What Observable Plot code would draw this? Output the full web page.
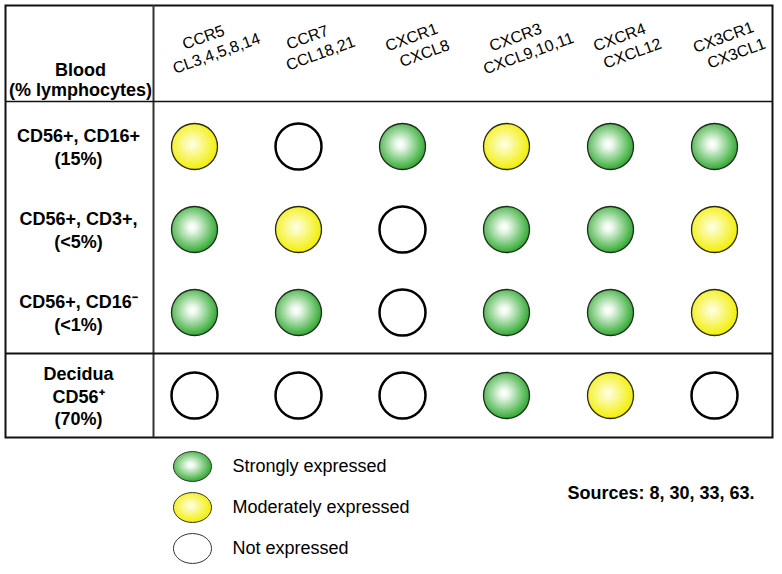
<!DOCTYPE html>
<html><head><meta charset="utf-8">
<script src="https://cdn.jsdelivr.net/npm/d3@7"></script>
<script src="https://cdn.jsdelivr.net/npm/@observablehq/plot@0.6"></script>
<style>body{margin:0;background:#fff} #chart svg{display:block}</style>
</head><body><div id="chart"></div>
<script>
// ---- data ----
const receptors = ["CCR5", "CCR7", "CXCR1", "CXCR3", "CXCR4", "CX3CR1"];
const ligands = ["CL3,4,5,8,14", "CCL18,21", "CXCL8", "CXCL9,10,11", "CXCL12", "CX3CL1"];
const cellTypes = ["CD56+, CD16+\n(15%)", "CD56+, CD3+,\n(<5%)", "CD56+, CD16\u207B\n(<1%)", "Decidua\nCD56\u207A\n(70%)"];
const exprCD16pos = ["moderate", "none", "strong", "moderate", "strong", "strong"];
const exprCD3pos = ["strong", "moderate", "none", "strong", "strong", "moderate"];
const exprCD16neg = ["strong", "strong", "none", "strong", "strong", "moderate"];
const exprDecidua = ["none", "none", "none", "strong", "moderate", "none"];
const headerLabel = "Blood\n(% lymphocytes)";
const legendLabels = ["Strongly expressed", "Moderately expressed", "Not expressed"];
const legendLevels = ["strong", "moderate", "none"];
const sourcesNote = "Sources: 8, 30, 33, 63.";

// ---- build table ----
const exprRows = [exprCD16pos, exprCD3pos, exprCD16neg, exprDecidua];
const cells = cellTypes.flatMap((cell, i) => receptors.map((receptor, j) => ({cell, receptor, level: exprRows[i][j]})));
const headerRow = "header";
const headers = receptors.map((receptor, i) => ({receptor, ligand: ligands[i], row: headerRow}));

const font = "Liberation Sans";
const styleFor = {
  strong: {fill: "url(#gradStrong)", stroke: "#1e2e1e", strokeWidth: 1.3},
  moderate: {fill: "url(#gradModerate)", stroke: "#2a2a10", strokeWidth: 1.3},
  none: {fill: "#ffffff", stroke: "#000000", strokeWidth: 2.5}
};

const main = Plot.plot({
  width: 782, height: 440,
  marginTop: 5, marginLeft: 5, marginRight: 10, marginBottom: 3,
  x: {type: "point", domain: receptors, range: [192, 716], padding: 0, axis: null},
  y: {type: "point", domain: [headerRow, ...cellTypes], range: [62.7, 396], padding: 0, axis: null},
  marks: [
    Plot.frame({stroke: "#111", strokeWidth: 2}),
    Plot.text(headers, {x: "receptor", y: "row", text: "receptor", dy: -26, dx: 9, rotate: -20, fontSize: 16, fontFamily: font}),
    Plot.text(headers, {x: "receptor", y: "row", text: "ligand", dy: -10, dx: 22, rotate: -20, fontSize: 16, fontFamily: font}),
    Plot.ruleX([receptors[0]], {dx: -41, stroke: "#333", strokeWidth: 2}),
    Plot.ruleY([cellTypes[0]], {dy: -45, stroke: "#111", strokeWidth: 1.5}),
    Plot.ruleY([cellTypes[3]], {dy: -42, stroke: "#111", strokeWidth: 2}),
    Plot.text([headerLabel], {frameAnchor: "top-left", dx: 75, dy: 74, textAnchor: "middle", lineAnchor: "middle", fontFamily: font, fontSize: 18, fontWeight: "bold", lineHeight: 1.11, fill: "#000"}),
    Plot.text(cellTypes, {y: d => d, text: d => d, frameAnchor: "left", dx: 73, textAnchor: "middle", fontFamily: font, fontSize: 18, fontWeight: "bold", lineHeight: 1.25, fill: "#000"}),
    ...legendLevels.map(level => Plot.dot(cells.filter(c => c.level === level), {x: "receptor", y: "cell", r: 23, ...styleFor[level]}))
  ]
});

// gradients built as real SVG elements
const defs = d3.select(main).insert("defs", ":first-child");
const gradients = [
  {id: "gradStrong", stops: [[0, "#ffffff"], [0.15, "#f0faf0"], [1, "#2ea82e"]]},
  {id: "gradModerate", stops: [[0, "#ffffea"], [1, "#f2ee00"]]}
];
for (const g of gradients) {
  const rg = defs.append("radialGradient").attr("id", g.id)
    .attr("cx", 0.45).attr("cy", 0.45).attr("r", 0.56).attr("fx", 0.45).attr("fy", 0.45);
  for (const [o, c] of g.stops) rg.append("stop").attr("offset", o).attr("stop-color", c);
}

const ellipse = {
  draw(ctx, size) {
    const r = Math.sqrt(size / Math.PI), rx = r * 1.12, ry = r * 0.88, k = 0.5523;
    ctx.moveTo(rx, 0);
    ctx.bezierCurveTo(rx, ry * k, rx * k, ry, 0, ry);
    ctx.bezierCurveTo(-rx * k, ry, -rx, ry * k, -rx, 0);
    ctx.bezierCurveTo(-rx, -ry * k, -rx * k, -ry, 0, -ry);
    ctx.bezierCurveTo(rx * k, -ry, rx, -ry * k, rx, 0);
    ctx.closePath();
  }
};

const legend = Plot.plot({
  width: 782, height: 134, margin: 0,
  y: {type: "point", domain: legendLabels, range: [25, 108], padding: 0, axis: null},
  marks: [
    ...legendLevels.map((level, i) => Plot.dot([legendLabels[i]], {y: d => d, frameAnchor: "left", dx: 192, r: 17, symbol: ellipse,
      fill: styleFor[level].fill, stroke: "#333", strokeWidth: 1})),
    Plot.text(legendLabels, {y: d => d, frameAnchor: "left", dx: 232, textAnchor: "start", fontFamily: font, fontSize: 18, fill: "#000"}),
    Plot.text([sourcesNote], {frameAnchor: "top-left", dx: 567, dy: 46, textAnchor: "start", fontFamily: font, fontSize: 18, fontWeight: "bold", fill: "#000"})
  ]
});

document.getElementById("chart").append(main, legend);
</script>
</body></html>
